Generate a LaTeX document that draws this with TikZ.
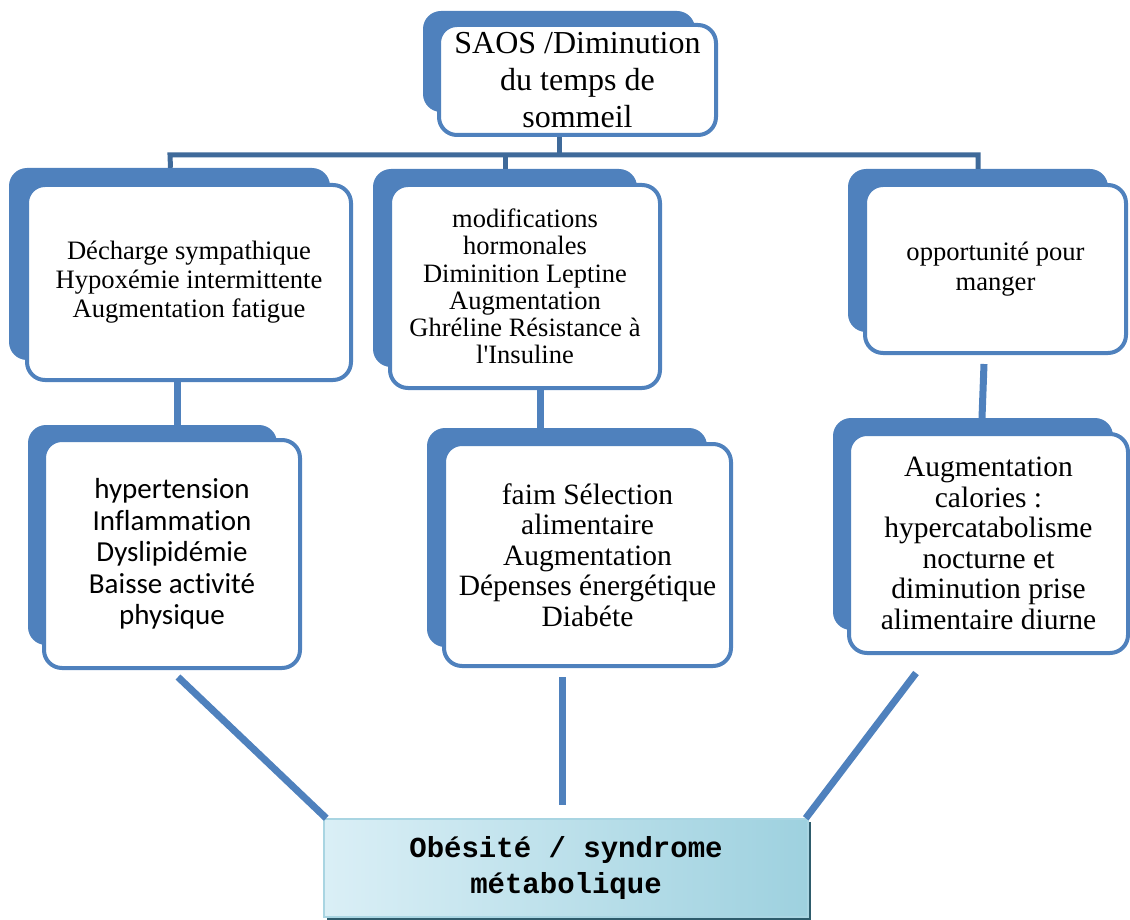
\documentclass[tikz,border=0pt]{standalone}
\usepackage{fontspec}
\setmainfont{Liberation Serif}
\newfontfamily\calibrifont[Ligatures=NoCommon]{Carlito}
\newfontfamily\courierfont{Liberation Mono}
\definecolor{accblue}{HTML}{4F81BD}
\definecolor{bardark}{HTML}{3F6A9A}
\definecolor{oblight}{HTML}{DAEFF6}
\definecolor{obdark}{HTML}{9ED1DF}
\definecolor{obedge}{HTML}{A9D5E2}
\definecolor{obshadow}{HTML}{2E5C6C}
\tikzset{
  backbox/.style={fill=accblue, draw=none, rounded corners=18pt, inner sep=0pt},
  frontbox/.style={fill=white, draw=accblue, line width=4pt, rounded corners=18pt, inner sep=0pt, align=center},
  conn/.style={draw=accblue, line width=7pt},
  bar/.style={draw=bardark, line width=5pt},
}
\begin{document}
\begin{tikzpicture}[x=1pt,y=-1pt]
\useasboundingbox (0,0) rectangle (1130,920);

% shadow (back) boxes
\node[backbox, minimum width=272pt, minimum height=101pt] (tops) at (559,61.5) {};
\node[backbox, minimum width=321pt, minimum height=192pt] (lts) at (169.5,264) {};
\node[backbox, minimum width=264pt, minimum height=198pt] (mts) at (505,268) {};
\node[backbox, minimum width=260pt, minimum height=163pt] (rts) at (978,250.5) {};
\node[backbox, minimum width=249pt, minimum height=220pt] (lls) at (152.5,535) {};
\node[backbox, minimum width=280pt, minimum height=219pt] (mls) at (567,537.5) {};
\node[backbox, minimum width=280pt, minimum height=212pt] (rls) at (973,524) {};

% front boxes
\node[frontbox, minimum width=277pt, minimum height=110pt,
  font=\fontsize{32}{37}\selectfont] (top) at (577.5,80)
  {SAOS /Diminution\\du temps de\\sommeil};
\node[frontbox, minimum width=324pt, minimum height=195pt,
  font=\fontsize{26.6}{29}\selectfont] (lt) at (189,282.5)
  {D\'echarge sympathique\\Hypox\'emie intermittente\\Augmentation fatigue};
\node[frontbox, minimum width=270pt, minimum height=203pt,
  font=\fontsize{26.5}{27.3}\selectfont] (mt) at (525,286.5)
  {modifications\\hormonales\\Diminition Leptine\\Augmentation\\Ghr\'eline R\'esistance \`a\\l\textquotesingle Insuline};
\node[frontbox, minimum width=261pt, minimum height=168pt,
  font=\fontsize{26.6}{30}\selectfont] (rt) at (995.5,269)
  {opportunit\'e pour\\manger};
\node[frontbox, minimum width=256pt, minimum height=228pt,
  font=\calibrifont\fontsize{29}{31.5}\selectfont] (ll) at (172,554)
  {hypertension\\Inflammation\\Dyslipid\'emie\\Baisse activit\'e\\physique};
\node[frontbox, minimum width=287pt, minimum height=222pt,
  font=\fontsize{29.5}{30.5}\selectfont] (ml) at (587.5,555)
  {faim S\'election\\alimentaire\\Augmentation\\D\'epenses \'energ\'etique\\Diab\'ete};
\node[frontbox, minimum width=279pt, minimum height=219pt,
  font=\fontsize{29.5}{30.5}\selectfont] (rl) at (988.5,543.5)
  {Augmentation\\calories :\\hypercatabolisme\\nocturne et\\diminution prise\\alimentaire diurne};

% bottom box
\fill[obshadow] (327,822) rectangle (811,920);
\node[draw=obedge, line width=1.5pt, left color=oblight, right color=obdark,
  minimum width=484pt, minimum height=98pt, inner sep=0pt, align=center,
  font=\courierfont\bfseries\fontsize{29}{36}\selectfont] (ob) at (566,868)
  {Ob\'esit\'e / syndrome\\m\'etabolique};

% top bar connectors
\coordinate (barmid) at (559,155);
\coordinate (barl) at (170,155);
\coordinate (barm) at (505,155);
\coordinate (barr) at (978,155);
\draw[bar] ([xshift=-18.5pt]top.south) -- (barmid);
\draw[bar] ([xshift=0.5pt]lts.north -| barl) -- (barl) -- (barr) -- (rts.north -| barr);
\draw[bar] (barm) -- (mts.north);

% box-to-box connectors
\draw[conn] ([xshift=-12pt]lt.south) -- ([xshift=-12pt]lt.south |- lls.north);
\draw[conn] ([xshift=15pt]mt.south) -- ([xshift=15pt]mt.south |- mls.north);
\coordinate (rtc) at (984,364);
\coordinate (rlc) at (982,418);
\draw[conn] (rtc) -- (rlc);

% lower connectors to bottom box
\coordinate (llc) at (178,677);
\coordinate (mlc) at (562,677);
\coordinate (mle) at (562,805);
\coordinate (rlc2) at (916,673);
\draw[conn] (llc) -- ([xshift=3pt]ob.north west);
\draw[conn] (mlc) -- (mle);
\draw[conn] (rlc2) -- ([xshift=-3pt]ob.north east);
\end{tikzpicture}
\end{document}
